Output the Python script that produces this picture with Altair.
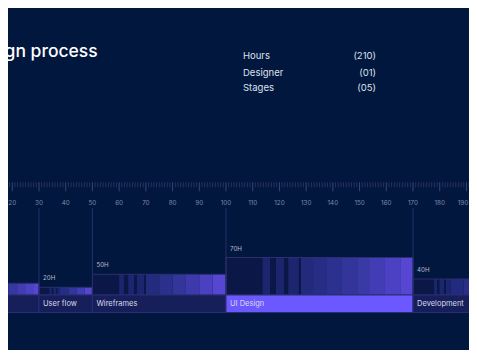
import altair as alt
import pandas as pd

BG = "#02173D"

# ---- data ----
title_text = "Design process"
stat_names = ["Hours", "Designer", "Stages"]
stat_values = ["(210)", "(01)", "(05)"]

stage_names = ["Research", "User flow", "Wireframes", "UI Design", "Development"]
stage_start = [0, 30, 50, 100, 170]
stage_end = [30, 50, 100, 170, 210]
stage_hours = [30, 20, 50, 70, 40]
bar_height = [11.7, 7.7, 20.7, 37.5, 16.0]
stage_active = [0, 0, 0, 1, 0]

# cells inside each stage bar: (from hour, to hour, intensity 0..1)
research_cells = [(0, 8, 0), (8, 9, .3), (9, 10, 0), (10, 12, .3), (12, 15.5, .45),
                  (15.5, 18.5, .55), (18.5, 21.8, .65), (21.8, 24.8, .75),
                  (24.8, 27.8, .86), (27.8, 30, .97)]
userflow_cells = [(30, 33.9, 0), (33.9, 34.8, .3), (34.8, 35.4, 0), (35.4, 36.6, .3),
                  (36.6, 36.9, 0), (36.9, 37.9, .3), (37.9, 41, .45), (41, 44, .6),
                  (44, 47, .78), (47, 50, .95)]
wireframe_cells = [(50, 60, 0), (60, 61.8, .3), (61.8, 63.4, 0), (63.4, 65.7, .3),
                   (65.7, 66.6, 0), (66.6, 69.3, .3), (69.3, 70, 0), (70, 75, .4),
                   (75, 80, .5), (80, 85, .6), (85, 90, .72), (90, 95, .85), (95, 100, .97)]
uidesign_cells = [(100, 113.7, 0), (113.7, 116.5, .3), (116.5, 118.7, 0), (118.7, 121.7, .3),
                  (121.7, 123.3, 0), (123.3, 127.3, .3), (127.3, 128, 0), (128, 132.6, .38),
                  (132.6, 137.8, .45), (137.8, 143.4, .52), (143.4, 149.1, .6),
                  (149.1, 153.9, .68), (153.9, 159.5, .77), (159.5, 165.2, .87), (165.2, 170, .97)]
development_cells = [(170, 177.9, 0), (177.9, 179.1, .3), (179.1, 179.9, 0), (179.9, 181.6, .3),
                     (181.6, 182.3, 0), (182.3, 184.1, .3), (184.1, 189, .4), (189, 194, .48),
                     (194, 200, .6), (200, 205, .75), (205, 210, .9)]

ruler_ticks = list(range(0, 211))
ruler_labels = list(range(20, 191, 10))

# ---- tables ----
stages = pd.DataFrame({
    "name": stage_names, "start": stage_start, "end": stage_end,
    "hours": stage_hours, "h": bar_height, "active": stage_active,
})
stages["hlabel"] = [f"{v}H" for v in stage_hours]
stages["base"] = 0.0
stages["row_lo"] = -17.5
stages["row_mid"] = -8.75
stages["line_top"] = 87.0

rows = []
for i, cells in enumerate([research_cells, userflow_cells, wireframe_cells,
                           uidesign_cells, development_cells]):
    for a, b, lv in cells:
        rows.append({"start": a, "end": b, "level": lv, "h": bar_height[i], "base": 0.0})
cells_df = pd.DataFrame(rows)

ticks_df = pd.DataFrame({"t": ruler_ticks})
ticks_df["major"] = (ticks_df["t"] % 10 == 0).astype(int)
labels_df = pd.DataFrame({"t": ruler_labels, "txt": [str(v) for v in ruler_labels]})
stats_df = pd.DataFrame({"name": stat_names, "val": stat_values,
                         "yy": [235.7, 219.3, 204.3]})
title_df = pd.DataFrame({"x": [0], "y": [238.3], "txt": [title_text]})

# visible window of the hour axis and of the vertical layout units
xs = alt.Scale(domain=[18.4, 190.96], nice=False, zero=False)
ys = alt.Scale(domain=[-55, 287], nice=False, zero=False)

def X(f):
    return alt.X(f, scale=xs, axis=None)

def Y(f):
    return alt.Y(f, scale=ys, axis=None)

FONT = "Inter"

cells_layer = alt.Chart(cells_df).mark_rect().encode(
    x=X("start:Q"), x2="end:Q", y=Y("base:Q"), y2="h:Q",
    color=alt.Color("level:Q", scale=alt.Scale(domain=[0, 1], range=["#0B1746", "#5A47D6"]),
                    legend=None),
)

outline = alt.Chart(stages).mark_rect(filled=False, stroke="#2A2F72", strokeWidth=1).encode(
    x=X("start:Q"), x2="end:Q", y=Y("base:Q"), y2="h:Q",
)

vlines = alt.Chart(stages).mark_rule(color="#262F6C", strokeWidth=1).encode(
    x=X("start:Q"), y=Y("row_lo:Q"), y2="line_top:Q",
)

label_row = alt.Chart(stages).mark_rect(stroke="#2B2D74", strokeWidth=1).encode(
    x=X("start:Q"), x2="end:Q", y=Y("row_lo:Q"), y2="base:Q",
    fill=alt.condition("datum.active == 1", alt.value("#6C58FF"), alt.value("#161F5A")),
)

stage_text = alt.Chart(stages).transform_filter("datum.start >= 18.4").mark_text(
    align="left", baseline="middle", dx=4, fontSize=7.5, font=FONT, color="#D8DBEE",
).encode(x=X("start:Q"), y=Y("row_mid:Q"), text="name:N")

hour_text = alt.Chart(stages).transform_filter("datum.start >= 18.4").mark_text(
    align="left", baseline="middle", dx=4, dy=-9, fontSize=6.2, font=FONT, color="#B5BAD4",
).encode(x=X("start:Q"), y=Y("h:Q"), text="hlabel:N")

minor = alt.Chart(ticks_df).transform_filter("datum.major == 0").transform_calculate(
    y1="107.7", y2="112.7").mark_rule(color="#26325F", strokeWidth=1).encode(
    x=X("t:Q"), y=Y("y1:Q"), y2="y2:Q")

major = alt.Chart(ticks_df).transform_filter("datum.major == 1").transform_calculate(
    y1="103.7", y2="112.7").mark_rule(color="#3A4576", strokeWidth=1).encode(
    x=X("t:Q"), y=Y("y1:Q"), y2="y2:Q")

ruler_text = alt.Chart(labels_df).transform_filter("datum.t < 190").transform_calculate(
    yy="92.3").mark_text(
    align="center", baseline="middle", fontSize=6.3, font=FONT, color="#7F89AA",
).encode(x=X("t:Q"), y=Y("yy:Q"), text="txt:N")

ruler_text_last = alt.Chart(labels_df).transform_filter("datum.t >= 190").transform_calculate(
    yy="92.3").mark_text(
    align="center", baseline="middle", dx=-3.5, fontSize=6.3, font=FONT, color="#7F89AA",
).encode(x=X("t:Q"), y=Y("yy:Q"), text="txt:N")

title = alt.Chart(title_df).mark_text(
    align="left", baseline="alphabetic", dx=9, fontSize=17.5, fontWeight=500, font=FONT,
    color="#FFFFFF",
).encode(x=X("x:Q"), y=Y("y:Q"), text="txt:N")

stat_l = alt.Chart(stats_df).mark_text(
    align="left", baseline="alphabetic", fontSize=9.5, font=FONT, color="#DDE1EE",
).encode(x=alt.value(235), y=Y("yy:Q"), text="name:N")

stat_r = alt.Chart(stats_df).mark_text(
    align="right", baseline="alphabetic", fontSize=9.5, font=FONT, color="#DDE1EE",
).encode(x=alt.value(368), y=Y("yy:Q"), text="val:N")

chart = alt.layer(
    cells_layer, outline, vlines, label_row, stage_text, hour_text,
    minor, major, ruler_text, ruler_text_last, title, stat_l, stat_r,
).properties(
    width=461, height=342, background=BG, padding=0,
    autosize=alt.AutoSizeParams(type="none"),
).configure_view(stroke=None)

chart.save("out.html", embed_options={"renderer": "svg", "actions": False})
